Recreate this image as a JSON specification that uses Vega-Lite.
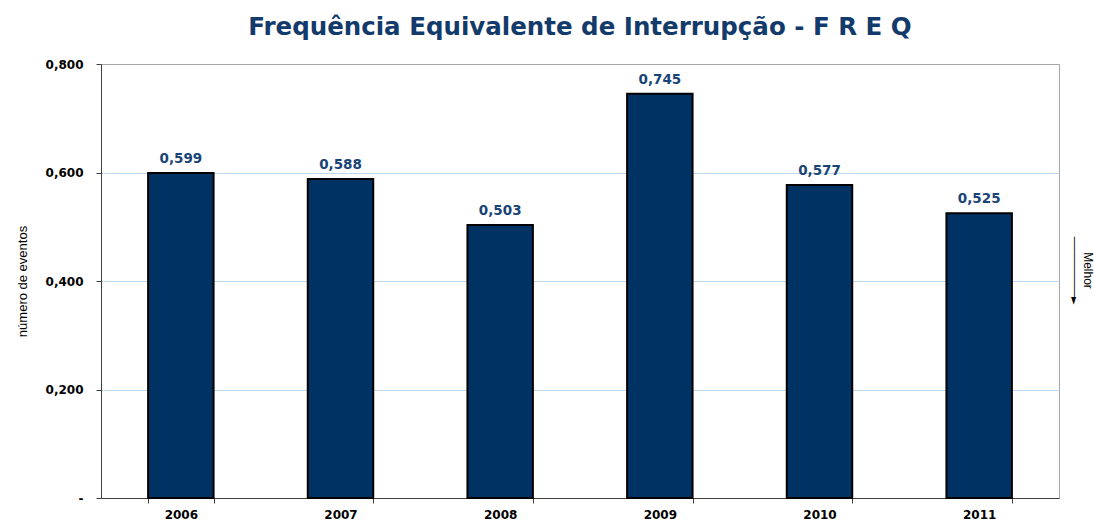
{
  "$schema": "https://vega.github.io/schema/vega-lite/v6.json",
  "autosize": "none",
  "width": 958,
  "height": 434,
  "padding": {"left": 101, "top": 64, "right": 35, "bottom": 24},
  "background": "white",
  "title": {
    "text": "Frequência Equivalente de Interrupção - F R E Q",
    "font": "DejaVu Sans",
    "fontSize": 24.5,
    "fontWeight": "bold",
    "color": "#123a6b",
    "anchor": "middle",
    "offset": 18
  },
  "config": {
    "view": {"stroke": "#a6a6a6", "strokeWidth": 1},
    "font": "Liberation Sans"
  },
  "data": {
    "values": [
      {"ano": "2006", "freq": 0.599},
      {"ano": "2007", "freq": 0.588},
      {"ano": "2008", "freq": 0.503},
      {"ano": "2009", "freq": 0.745},
      {"ano": "2010", "freq": 0.577},
      {"ano": "2011", "freq": 0.525}
    ]
  },
  "encoding": {
    "x": {
      "field": "ano",
      "type": "nominal",
      "scale": {"paddingInner": 0.59, "paddingOuter": 0.295},
      "axis": {
        "title": null,
        "labelAngle": 0,
        "labelFont": "DejaVu Sans",
        "labelFontSize": 12,
        "labelFontWeight": "bold",
        "labelColor": "#000000",
        "labelPadding": 6,
        "tickBand": "extent",
        "tickSize": 5,
        "tickColor": "#404040",
        "domainColor": "#404040",
        "grid": false
      }
    }
  },
  "layer": [
    {
      "mark": {"type": "bar", "fill": "#003264", "stroke": "#000000", "strokeWidth": 2},
      "encoding": {
        "y": {
          "field": "freq",
          "type": "quantitative",
          "scale": {"domain": [0, 0.8], "nice": false},
          "axis": {
            "values": [0, 0.2, 0.4, 0.6, 0.8],
            "labelExpr": "datum.value == 0 ? '-' : replace(format(datum.value, '.3f'), '.', ',')",
            "labelFont": "DejaVu Sans",
            "labelFontSize": 12,
            "labelFontWeight": "bold",
            "labelColor": "#000000",
            "labelPadding": 13,
            "tickSize": 5,
            "tickColor": "#404040",
            "domainColor": "#404040",
            "gridColor": {"condition": {"test": "datum.value >= 0.79", "value": "#a6a6a6"}, "value": "#bcd8f4"},
            "gridWidth": 1,
            "title": "número de eventos",
            "titleFont": "Liberation Sans",
            "titleFontSize": 13,
            "titleFontWeight": "normal",
            "titleColor": "#000000",
            "titlePadding": 16
          }
        }
      }
    },
    {
      "mark": {
        "type": "text",
        "dy": -14,
        "font": "DejaVu Sans",
        "fontSize": 13.5,
        "fontWeight": "bold",
        "color": "#1a4476",
        "text": {"expr": "replace(format(datum.freq, '.3f'), '.', ',')"}
      },
      "encoding": {
        "y": {
          "field": "freq",
          "type": "quantitative",
          "scale": {"domain": [0, 0.8], "nice": false},
          "axis": {
            "orient": "right",
            "values": [0.42],
            "labelExpr": "'──────────►'",
            "labelAngle": 90,
            "labelAlign": "center",
            "labelBaseline": "middle",
            "labelFont": "DejaVu Sans",
            "labelFontSize": 10,
            "labelColor": "#000000",
            "labelPadding": 14,
            "labelOverlap": false,
            "ticks": false,
            "domain": false,
            "grid": false,
            "title": "Melhor",
            "titleAngle": 90,
            "titleY": 206,
            "titleFont": "Liberation Sans",
            "titleFontSize": 12,
            "titleFontWeight": "normal",
            "titleColor": "#000000",
            "titlePadding": 2
          }
        }
      }
    }
  ],
  "resolve": {"scale": {"y": "independent"}}
}
